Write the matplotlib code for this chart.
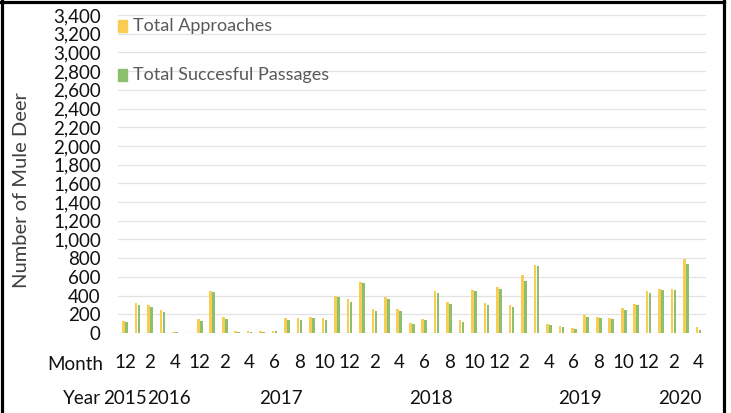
import matplotlib
matplotlib.use("Agg")
import matplotlib.pyplot as plt
import numpy as np
from matplotlib.lines import Line2D
from matplotlib.patches import Rectangle

# ---------------- data ----------------
months = [12, 1, 2, 3, 4, 5, 12,
          1, 2, 3, 4, 5, 6, 7, 8, 9, 10, 11, 12,
          1, 2, 3, 4, 5, 6, 7, 8, 9, 10, 11, 12,
          1, 2, 3, 4, 5, 6, 7, 8, 9, 10, 11, 12,
          1, 2, 3, 4]
year_labels = ["2015", "2016", "2017", "2018", "2019", "2020"]
year_counts = [1, 6, 12, 12, 12, 4]

approaches = [130, 320, 300, 250, 15, 5, 150,
              445, 170, 25, 20, 20, 25, 160, 160, 175, 160, 400, 360,
              550, 260, 380, 260, 110, 150, 450, 330, 140, 460, 320, 490,
              300, 620, 730, 100, 70, 55, 190, 170, 160, 270, 310, 450,
              470, 470, 790, 60]
passages = [115, 300, 280, 225, 10, 3, 130,
            440, 150, 15, 15, 15, 20, 140, 140, 160, 140, 380, 335,
            530, 240, 360, 240, 95, 140, 430, 310, 120, 445, 300, 470,
            280, 560, 720, 85, 60, 45, 175, 160, 150, 250, 300, 430,
            460, 460, 740, 30]
series_names = ["Total Approaches", "Total Succesful Passages"]
yticks = list(range(0, 3401, 200))

# ---------------- style ----------------
plt.rcParams['font.family'] = ['Lato', 'DejaVu Sans']
W, H = 731, 413
fig = plt.figure(figsize=(W / 100, H / 100), dpi=100)
fig.patch.set_facecolor("white")

left_px, right_px, top_px, bot_px = 117.5, 706, 15, 333
ax = fig.add_axes([left_px / W, (H - bot_px) / H,
                   (right_px - left_px) / W, (bot_px - top_px) / H])

yellow = "#F8CD52"
green = "#8CC06E"
x = np.arange(len(months))
bw = 0.21
ax.bar(x - 0.12, approaches, width=bw, color=yellow, zorder=3)
ax.bar(x + 0.12, passages, width=bw, color=green, zorder=3)

ax.set_xlim(-0.6, len(months) - 0.4)
ax.set_ylim(0, 3400)
ax.set_yticks(yticks)
ax.set_yticklabels([f"{v:,}" for v in yticks])
ax.yaxis.grid(True, color="#e2e2e2", lw=0.9, zorder=0)
for s in ax.spines.values():
    s.set_visible(False)
fs = 13.5
ax.tick_params(axis="y", length=0, pad=12, labelsize=fs, labelcolor="#111111")

ax.set_xticks(x[::2])
ax.set_xticklabels([str(m) for m in months[::2]])
ax.tick_params(axis="x", length=0, pad=15, labelsize=fs, labelcolor="#111111")

# year labels centred on their groups
trans = ax.get_xaxis_transform()
start = 0
for lab, n in zip(year_labels, year_counts):
    c = start + (n - 1) / 2
    ax.text(c, -(398 - bot_px) / (bot_px - top_px), lab, transform=trans,
            ha="center", va="center", fontsize=fs, color="#111111")
    start += n

fig.text(103 / W, 1 - 364 / H, "Month", ha="right", va="center",
         fontsize=fs, color="#111111")
fig.text(101 / W, 1 - 398 / H, "Year", ha="right", va="center",
         fontsize=fs, color="#111111")
fig.text(22 / W, 1 - 190 / H, "Number of Mule Deer", rotation=90,
         ha="center", va="center", fontsize=14.5, color="#404040")

# legend (manual, Excel-like)
for i, (name, col) in enumerate(zip(series_names, [yellow, green])):
    yc = 26 + i * 49
    fig.add_artist(Rectangle((118 / W, 1 - (yc + 6) / H), 9 / W, 12 / H,
                             transform=fig.transFigure, color=col))
    fig.text(133 / W, 1 - yc / H, name, ha="left", va="center",
             fontsize=13, color="#595959")

# black frame
lw = 2.3
fig.add_artist(Line2D([1.5 / W, 1.5 / W], [0, 1], transform=fig.transFigure, color="black", lw=lw))
fig.add_artist(Line2D([724 / W, 724 / W], [0, 1], transform=fig.transFigure, color="black", lw=lw))
fig.add_artist(Line2D([0, 724 / W], [1 - 1.5 / H, 1 - 1.5 / H], transform=fig.transFigure, color="black", lw=lw))

fig.savefig("out.png", dpi=100, facecolor="white")
